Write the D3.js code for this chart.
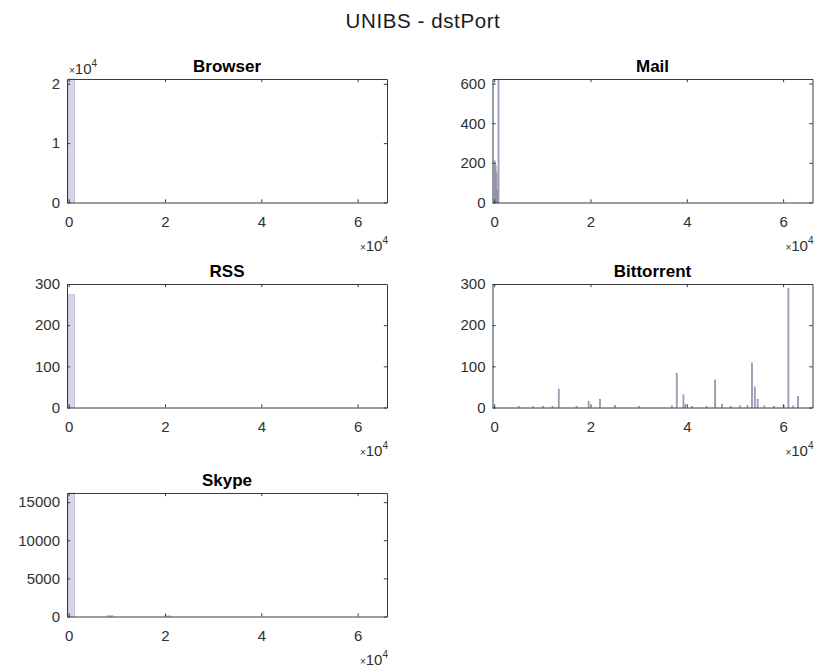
<!DOCTYPE html>
<html>
<head>
<meta charset="utf-8">
<script src="https://cdn.jsdelivr.net/npm/d3@7"></script>
<style>
  body { margin: 0; background: #fff; }
  svg { display: block; }
  text { font-family: "Liberation Sans", Arial, Helvetica, sans-serif; }
</style>
</head>
<body>
<svg id="fig" width="814" height="671"></svg>
<script>
// ---- data: destination-port histograms per traffic class ----
const figTitle = "UNIBS - dstPort";
const xTickValues = [0, 20000, 40000, 60000];
const xTickLabels = ["0", "2", "4", "6"];

const browserPorts  = [0];
const browserCounts = [20800];

const mailPorts  = [0, 200, 400, 600, 800];
const mailCounts = [210, 185, 150, 60, 623];

const rssPorts  = [0];
const rssCounts = [275];

const bittorrentPorts  = [5000, 8000, 10000, 12000, 13300, 17000, 19500, 21900, 25000, 30000,
                          36800, 37800, 39200, 39600, 41000, 44000, 45800, 47200, 49000, 51000,
                          52500, 53400, 54000, 54600, 56000, 58000, 60000, 61000, 62000, 63000];
const bittorrentCounts = [2, 2, 3, 2, 45, 2, 15, 20, 5, 2,
                          4, 83, 31, 8, 3, 3, 67, 8, 3, 4,
                          5, 108, 50, 20, 4, 3, 5, 290, 4, 27];

const skypePorts  = [0, 8000, 20000];
const skypeCounts = [16200, 120, 90];

const browserYTicks = [0, 10000, 20000];
const browserYLabels = ["0", "1", "2"];
const mailYTicks = [0, 200, 400, 600];
const rssYTicks = [0, 100, 200, 300];
const bittorrentYTicks = [0, 100, 200, 300];
const skypeYTicks = [0, 5000, 10000, 15000];

// ---- panel definitions (data + axis limits) ----
const panels = [
  { title: "Browser",    ports: browserPorts,    counts: browserCounts,    bin: 1200, yMax: 20800, yTicks: browserYTicks,    yLabels: browserYLabels, yExp: true,  col: 0, row: 0 },
  { title: "Mail",       ports: mailPorts,       counts: mailCounts,       bin: 200,  yMax: 623,   yTicks: mailYTicks,       yLabels: null, yExp: false, col: 1, row: 0 },
  { title: "RSS",        ports: rssPorts,        counts: rssCounts,        bin: 1200, yMax: 300,   yTicks: rssYTicks,        yLabels: null, yExp: false, col: 0, row: 1 },
  { title: "Bittorrent", ports: bittorrentPorts, counts: bittorrentCounts, bin: 200,  yMax: 300,   yTicks: bittorrentYTicks, yLabels: null, yExp: false, col: 1, row: 1 },
  { title: "Skype",      ports: skypePorts,      counts: skypeCounts,      bin: 1200, yMax: 16200, yTicks: skypeYTicks,      yLabels: null, yExp: false, col: 0, row: 2 }
];

// ---- layout ----
const colLeft = [67, 492.5];
const plotW = 320;
const rowTop = [79, 284, 493];
const plotH = 123.5;
const xDomain = [-350, 66100];

const tickFont = 15;
const textColor = "#303030";
const axisColor = "#3a3a3a";

const svg = d3.select("#fig");
svg.append("rect").attr("width", 814).attr("height", 671).attr("fill", "#fff");

svg.append("text")
  .attr("x", 423).attr("y", 27.5)
  .attr("text-anchor", "middle")
  .attr("font-size", 20.5)
  .attr("letter-spacing", 0.6)
  .attr("fill", "#1a1a1a")
  .text(figTitle);

function styleAxis(g) {
  g.attr("font-size", tickFont)
   .attr("font-family", "'Liberation Sans', Arial, Helvetica, sans-serif");
  g.selectAll("path.domain").attr("stroke", axisColor).attr("stroke-width", 1);
  g.selectAll(".tick line").attr("stroke", axisColor).attr("stroke-width", 1);
  g.selectAll(".tick text").attr("fill", textColor);
}

panels.forEach(p => {
  const left = colLeft[p.col], top = rowTop[p.row];
  const right = left + plotW, bottom = top + plotH;

  const x = d3.scaleLinear().domain(xDomain).range([left, right]);
  const y = d3.scaleLinear().domain([0, p.yMax]).range([bottom, top]);

  const g = svg.append("g");

  // histogram bars
  const bins = p.ports.map((port, i) => ({ x0: port, x1: port + p.bin, n: p.counts[i] }));
  const wide = p.bin > 500;
  g.append("g").selectAll("rect").data(bins).join("rect")
    .attr("x", d => x(d.x0))
    .attr("y", d => y(d.n))
    .attr("width", d => Math.max(0.5, x(d.x1) - x(d.x0)))
    .attr("height", d => bottom - y(d.n))
    .attr("fill", "#d6d6e8")
    .attr("stroke", wide ? "#b4b4cc" : "#6e6e8c")
    .attr("stroke-width", wide ? 0.7 : 0.6);

  const tickLen = 3.2;
  // bottom axis with labels
  const gx = g.append("g").attr("transform", `translate(0,${bottom})`)
    .call(d3.axisBottom(x).tickValues(xTickValues)
      .tickFormat((d, i) => xTickLabels[i])
      .tickSizeInner(-tickLen).tickSizeOuter(0).tickPadding(14.3));
  styleAxis(gx);
  // top mirror axis
  const gxt = g.append("g").attr("transform", `translate(0,${top})`)
    .call(d3.axisTop(x).tickValues(xTickValues).tickFormat("")
      .tickSizeInner(-tickLen).tickSizeOuter(0));
  styleAxis(gxt);
  // left axis with labels
  const gy = g.append("g").attr("transform", `translate(${left},0)`)
    .call(d3.axisLeft(y).tickValues(p.yTicks)
      .tickFormat((d, i) => p.yLabels ? p.yLabels[i] : String(d))
      .tickSizeInner(-tickLen).tickSizeOuter(0).tickPadding(7));
  styleAxis(gy);
  // right mirror axis
  const gyr = g.append("g").attr("transform", `translate(${right},0)`)
    .call(d3.axisRight(y).tickValues(p.yTicks).tickFormat("")
      .tickSizeInner(-tickLen).tickSizeOuter(0));
  styleAxis(gyr);

  // panel title
  g.append("text")
    .attr("x", (left + right) / 2).attr("y", top - 7.5)
    .attr("text-anchor", "middle")
    .attr("font-size", 17).attr("font-weight", "bold")
    .attr("fill", "#000")
    .text(p.title);

  // x exponent label
  const ex = g.append("text")
    .attr("x", right + 1).attr("y", bottom + 48.5)
    .attr("text-anchor", "end")
    .attr("font-size", tickFont).attr("fill", textColor);
  ex.append("tspan").attr("font-size", 10).text("\u00d7");
  ex.append("tspan").text("10");
  ex.append("tspan").attr("font-size", 10).attr("dy", -7).text("4");

  // y exponent label
  if (p.yExp) {
    const ey = g.append("text")
      .attr("x", left + 2).attr("y", top - 5.5)
      .attr("font-size", tickFont).attr("fill", textColor);
    ey.append("tspan").attr("font-size", 10).text("\u00d7");
    ey.append("tspan").text("10");
    ey.append("tspan").attr("font-size", 10).attr("dy", -7).text("4");
  }
});
</script>
</body>
</html>
